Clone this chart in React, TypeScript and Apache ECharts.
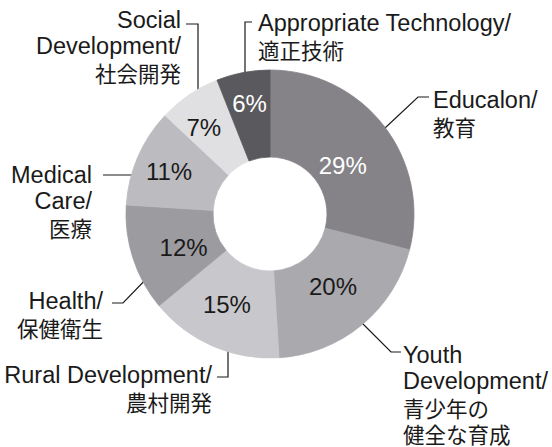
import React, { useEffect, useRef } from "react";
import * as echarts from "echarts";

const categories = [
  "Educalon/\n教育",
  "Youth\nDevelopment/\n青少年の\n健全な育成",
  "Rural Development/\n農村開発",
  "Health/\n保健衛生",
  "Medical\nCare/\n医療",
  "Social\nDevelopment/\n社会開発",
  "Appropriate Technology/\n適正技術",
];
const shares = [29, 20, 15, 12, 11, 7, 6];
const sliceColors = ["#858388", "#aaa9ae", "#c8c8cc", "#9c9ba0", "#bcbcc0", "#e0e0e3", "#5a595d"];
const pctColors = ["#ffffff", "#1a1a1a", "#1a1a1a", "#1a1a1a", "#1a1a1a", "#1a1a1a", "#ffffff"];

// label placement (annotation layout): anchor x, block top y, alignment, leader points
const labelPlacement = [
  { x: 433, y: 87, align: "left", line: [[369, 143], [418, 97], [429, 97]] },
  { x: 403, y: 342, align: "left", line: [[353, 314], [391, 352], [401, 352]] },
  { x: 212, y: 362, align: "right", line: [[228, 336], [228, 377], [217, 377]] },
  { x: 103, y: 288, align: "right", line: [[153, 272], [123, 303], [112, 303]] },
  { x: 92, y: 162, align: "right", line: [[143, 175], [103, 175]] },
  { x: 181, y: 7, align: "right", line: [[198, 100], [198, 24], [186, 24]] },
  { x: 258, y: 10, align: "left", line: [[245, 87], [245, 22], [252, 22]] },
];
// nudges of the in-slice percentage labels
const pctNudge = [
  [-9, 15], [-3, -7], [-2, -4], [12, 2], [-6, -1], [-8, -1], [-1, -9],
];

const FONT = "'Liberation Sans', Arial, 'Noto Sans CJK JP', sans-serif";
const CJK = "'Noto Sans CJK JP', sans-serif";

export default function App() {
  const ref = useRef<HTMLDivElement>(null);
  useEffect(() => {
    if (!ref.current) return;
    const chart = echarts.init(ref.current, undefined, { renderer: "svg" });
    const center = [270, 214];
    const radius = [57, 144];
    chart.setOption({
      animation: false,
      backgroundColor: "#ffffff",
      series: [
        {
          type: "pie",
          center,
          radius,
          startAngle: 90,
          clockwise: true,
          silent: true,
          avoidLabelOverlap: false,
          label: {
            show: true,
            position: "inside",
            formatter: "{c}%",
            fontSize: 24,
            fontFamily: FONT,
          },
          labelLine: { show: false },
          labelLayout: (params: any) => {
            const n = pctNudge[params.dataIndex];
            return { dx: n[0], dy: n[1], hideOverlap: false };
          },
          data: shares.map((v, i) => ({
            name: categories[i],
            value: v,
            itemStyle: { color: sliceColors[i], borderColor: sliceColors[i], borderWidth: 0.8 },
            label: { color: pctColors[i] },
          })),
        },
        {
          type: "pie",
          center,
          radius,
          startAngle: 90,
          clockwise: true,
          silent: true,
          avoidLabelOverlap: false,
          itemStyle: { color: "rgba(0,0,0,0)", borderWidth: 0 },
          label: {
            show: true,
            position: "outside",
            formatter: (p: any) =>
              String(p.name)
                .split("\n")
                .map((l: string) => (/[^\x00-\x7F]/.test(l) ? `{ja|${l}}` : `{en|${l}}`))
                .join("\n"),
            color: "#1a1a1a",
            rich: {
              en: { fontSize: 23.5, lineHeight: 26, fontFamily: FONT, color: "#1a1a1a" },
              ja: { fontSize: 21.5, lineHeight: 26, fontFamily: CJK, color: "#1a1a1a" },
            },
          },
          labelLine: {
            show: true,
            smooth: false,
            lineStyle: { color: "#1a1a1a", width: 1.2 },
          },
          labelLayout: (params: any) => {
            const p = labelPlacement[params.dataIndex];
            return {
              x: p.x,
              y: p.y,
              align: p.align,
              verticalAlign: "top",
              labelLinePoints: p.line,
              hideOverlap: false,
            };
          },
          data: shares.map((v, i) => ({ name: categories[i], value: v })),
        },
      ],
    });
    return () => chart.dispose();
  }, []);
  return (
    <div
      ref={ref}
      style={{ position: "fixed", left: 0, top: 0, width: 552, height: 447 }}
    />
  );
}
